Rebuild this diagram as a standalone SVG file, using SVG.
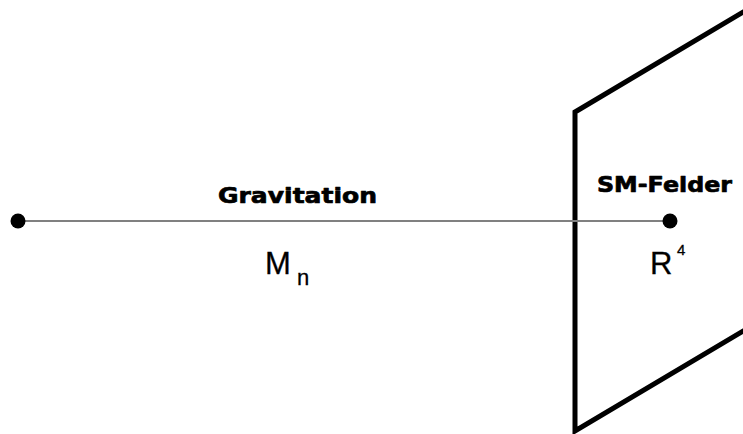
<svg xmlns="http://www.w3.org/2000/svg" width="743" height="434" viewBox="0 0 743 434">
  <style>
    .bold { font-family: "DejaVu Sans", "Liberation Sans", sans-serif; font-weight: 700; fill: #000; stroke: #000; stroke-width: 0.7; stroke-linejoin: round; }
    .math { font-family: "Liberation Sans", Arial, sans-serif; fill: #000; stroke: #000; stroke-width: 0.3; }
    .dot { fill: #000; }
    .plane { fill: none; stroke: #000; stroke-width: 5; stroke-linejoin: miter; }
    .link { stroke: #808080; stroke-width: 2; fill: none; }
  </style>
  <rect width="743" height="434" fill="#fff"/>
  <g id="plane">
    <path class="plane" d="M 770,-4 L 575,112 L 575,431 L 770,315"/>
  </g>
  <g id="connectors">
    <line class="link" x1="18" y1="221" x2="670" y2="221"/>
  </g>
  <g id="node-bulk">
    <circle class="dot" cx="18" cy="221" r="7.5"/>
    <text class="bold" x="218" y="203" font-size="22" textLength="159" lengthAdjust="spacingAndGlyphs">Gravitation</text>
    <text class="math" x="265" y="274" font-size="31">M</text>
    <text class="math" x="297" y="285" font-size="22">n</text>
  </g>
  <g id="node-brane">
    <circle class="dot" cx="670" cy="221" r="7.5"/>
    <text class="bold" x="597" y="192" font-size="22" textLength="135" lengthAdjust="spacingAndGlyphs">SM-Felder</text>
    <text class="math" x="650" y="274" font-size="31">R</text>
    <text class="math" x="677" y="255" font-size="15">4</text>
  </g>
</svg>
